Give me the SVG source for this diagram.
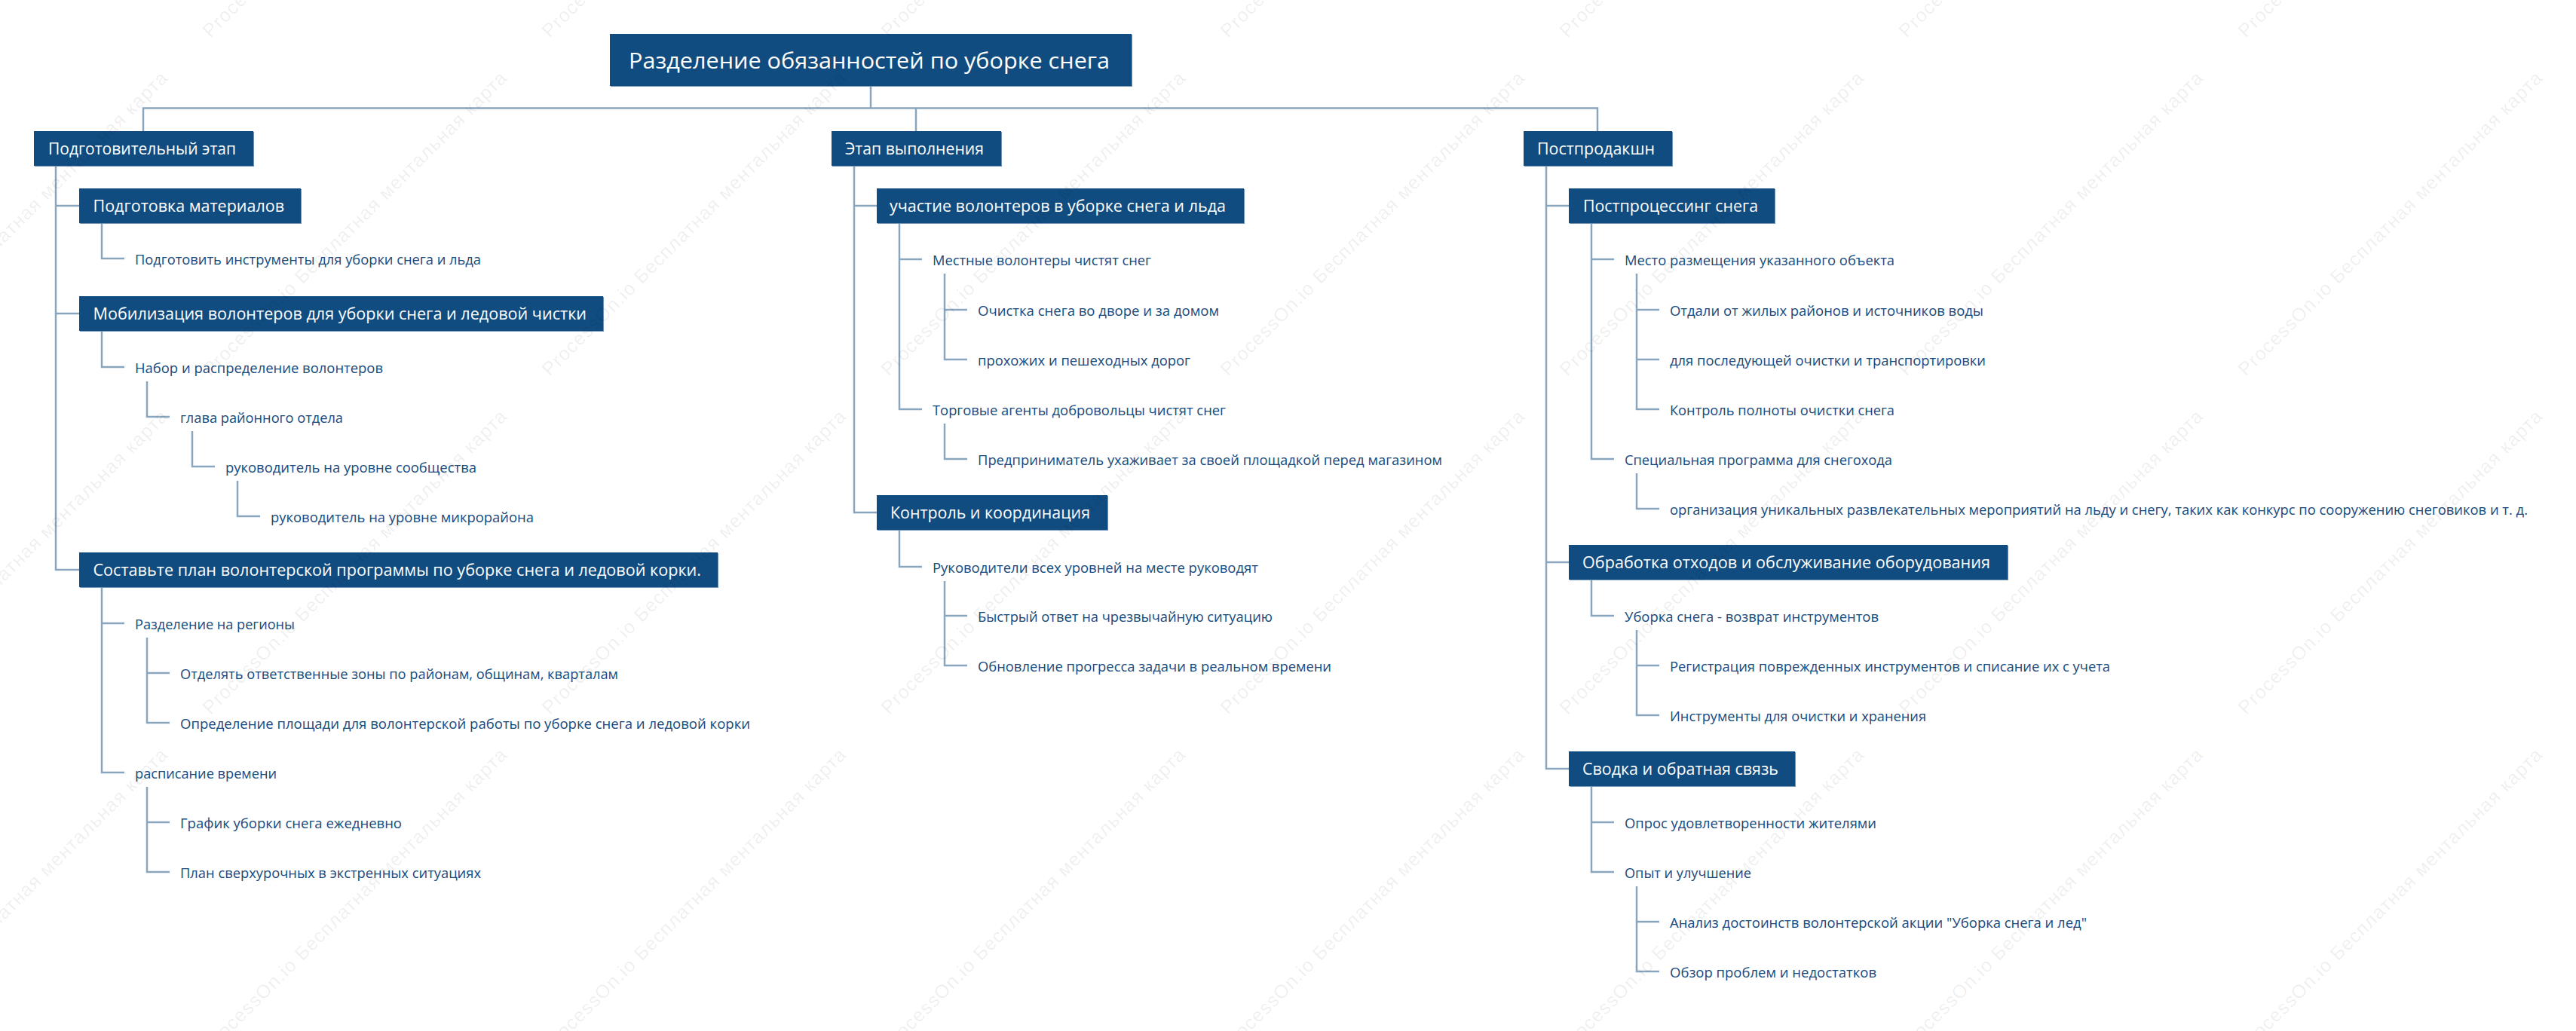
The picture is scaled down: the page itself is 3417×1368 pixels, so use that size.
<svg xmlns="http://www.w3.org/2000/svg" width="3417" height="1368" viewBox="0 0 3417 1368">
<style>
.bg{fill:#ffffff}
.box{fill:#114c80}
.edge{fill:#6d93b8}
.bt{fill:#ffffff;font-family:"Open Sans","Noto Sans",sans-serif;font-size:22px}
.rt{fill:#ffffff;font-family:"Open Sans","Noto Sans",sans-serif;font-size:30px}
.lf{fill:#164a7e;font-family:"Open Sans","Noto Sans",sans-serif;font-size:18.5px}
.ln{fill:none;stroke:#8aa6bf;stroke-width:2.5;stroke-linejoin:miter}
.wm{fill:#000000;fill-opacity:0.07;font-family:"Liberation Sans",sans-serif;font-size:25px}
</style>
<rect class="bg" x="0" y="0" width="3417" height="1368"/>

<g id="connectors" class="ln">
<path d="M1155 114 V143.5 M190 174 V143.5 H2119 V174 M1215 143.5 V174"/>
<path d="M74 220 V756 H105 M74 273 H105 M74 416 H105"/>
<path d="M135 296 V343 H165"/>
<path d="M135 439 V487 H165"/>
<path d="M195 506 V553 H225"/>
<path d="M255 572 V619 H285"/>
<path d="M315 638 V685 H345"/>
<path d="M135 779 V1025 H165 M135 827 H165"/>
<path d="M195 846 V959 H225 M195 893 H225"/>
<path d="M195 1044 V1157 H225 M195 1091 H225"/>
<path d="M1133 220 V680 H1163 M1133 273 H1163"/>
<path d="M1193 296 V543 H1223 M1193 344 H1223"/>
<path d="M1253 363 V477 H1283 M1253 411 H1283"/>
<path d="M1253 562 V609 H1283"/>
<path d="M1193 703 V752 H1223"/>
<path d="M1253 771 V883 H1283 M1253 817 H1283"/>
<path d="M2051 220 V1020 H2081 M2051 273 H2081 M2051 746 H2081"/>
<path d="M2111 296 V609 H2141 M2111 344 H2141"/>
<path d="M2171 363 V543 H2201 M2171 411 H2201 M2171 477 H2201"/>
<path d="M2171 628 V675 H2201"/>
<path d="M2111 769 V817 H2141"/>
<path d="M2171 836 V949 H2201 M2171 883 H2201"/>
<path d="M2111 1043 V1157 H2141 M2111 1091 H2141"/>
<path d="M2171 1176 V1289 H2201 M2171 1223 H2201"/>
</g>

<g id="root"><rect class="edge" x="810" y="46" width="692" height="69"/><rect class="box" x="809" y="45" width="692" height="69"/><text class="rt" x="834" y="91" textLength="638" lengthAdjust="spacingAndGlyphs">Разделение обязанностей по уборке снега</text></g>

<g id="n-prep"><rect class="edge" x="46" y="175" width="291" height="46"/><rect class="box" x="45" y="174" width="291" height="46"/><text class="bt" x="64" y="205" textLength="249" lengthAdjust="spacingAndGlyphs">Подготовительный этап</text></g>
<g id="n-exec"><rect class="edge" x="1104" y="175" width="225" height="46"/><rect class="box" x="1103" y="174" width="225" height="46"/><text class="bt" x="1121" y="205" textLength="184" lengthAdjust="spacingAndGlyphs">Этап выполнения</text></g>
<g id="n-post"><rect class="edge" x="2022" y="175" width="197" height="46"/><rect class="box" x="2021" y="174" width="197" height="46"/><text class="bt" x="2039" y="205" textLength="156" lengthAdjust="spacingAndGlyphs">Постпродакшн</text></g>

<g id="n-materials"><rect class="edge" x="106" y="251" width="294" height="46"/><rect class="box" x="105" y="250" width="294" height="46"/><text class="bt" x="123.5" y="281" textLength="253.5" lengthAdjust="spacingAndGlyphs">Подготовка материалов</text></g>
<g id="n-mobil"><rect class="edge" x="106" y="394" width="695" height="46"/><rect class="box" x="105" y="393" width="695" height="46"/><text class="bt" x="123.5" y="424" textLength="654.5" lengthAdjust="spacingAndGlyphs">Мобилизация волонтеров для уборки снега и ледовой чистки</text></g>
<g id="n-plan"><rect class="edge" x="106" y="734" width="847" height="46"/><rect class="box" x="105" y="733" width="847" height="46"/><text class="bt" x="123.5" y="764" textLength="806.5" lengthAdjust="spacingAndGlyphs">Составьте план волонтерской программы по уборке снега и ледовой корки.</text></g>
<g id="n-part"><rect class="edge" x="1164" y="251" width="487" height="46"/><rect class="box" x="1163" y="250" width="487" height="46"/><text class="bt" x="1180" y="281" textLength="446" lengthAdjust="spacingAndGlyphs">участие волонтеров в уборке снега и льда</text></g>
<g id="n-ctrl"><rect class="edge" x="1164" y="658" width="306" height="46"/><rect class="box" x="1163" y="657" width="306" height="46"/><text class="bt" x="1181" y="688" textLength="265" lengthAdjust="spacingAndGlyphs">Контроль и координация</text></g>
<g id="n-postproc"><rect class="edge" x="2082" y="251" width="273" height="46"/><rect class="box" x="2081" y="250" width="273" height="46"/><text class="bt" x="2100" y="281" textLength="232" lengthAdjust="spacingAndGlyphs">Постпроцессинг снега</text></g>
<g id="n-waste"><rect class="edge" x="2082" y="724" width="582" height="46"/><rect class="box" x="2081" y="723" width="582" height="46"/><text class="bt" x="2099" y="754" textLength="541" lengthAdjust="spacingAndGlyphs">Обработка отходов и обслуживание оборудования</text></g>
<g id="n-summary"><rect class="edge" x="2082" y="998" width="300" height="46"/><rect class="box" x="2081" y="997" width="300" height="46"/><text class="bt" x="2099" y="1028" textLength="260" lengthAdjust="spacingAndGlyphs">Сводка и обратная связь</text></g>

<g id="l1"><text class="lf" x="179" y="351" textLength="459" lengthAdjust="spacingAndGlyphs">Подготовить инструменты для уборки снега и льда</text></g>
<g id="l2"><text class="lf" x="179" y="495" textLength="329" lengthAdjust="spacingAndGlyphs">Набор и распределение волонтеров</text></g>
<g id="l3"><text class="lf" x="239" y="561" textLength="216" lengthAdjust="spacingAndGlyphs">глава районного отдела</text></g>
<g id="l4"><text class="lf" x="299" y="627" textLength="333" lengthAdjust="spacingAndGlyphs">руководитель на уровне сообщества</text></g>
<g id="l5"><text class="lf" x="359" y="693" textLength="349" lengthAdjust="spacingAndGlyphs">руководитель на уровне микрорайона</text></g>
<g id="l6"><text class="lf" x="179" y="835" textLength="212" lengthAdjust="spacingAndGlyphs">Разделение на регионы</text></g>
<g id="l7"><text class="lf" x="239" y="901" textLength="581" lengthAdjust="spacingAndGlyphs">Отделять ответственные зоны по районам, общинам, кварталам</text></g>
<g id="l8"><text class="lf" x="239" y="967" textLength="756" lengthAdjust="spacingAndGlyphs">Определение площади для волонтерской работы по уборке снега и ледовой корки</text></g>
<g id="l9"><text class="lf" x="179" y="1033" textLength="188" lengthAdjust="spacingAndGlyphs">расписание времени</text></g>
<g id="l10"><text class="lf" x="239" y="1099" textLength="294" lengthAdjust="spacingAndGlyphs">График уборки снега ежедневно</text></g>
<g id="l11"><text class="lf" x="239" y="1165" textLength="399" lengthAdjust="spacingAndGlyphs">План сверхурочных в экстренных ситуациях</text></g>

<g id="m1"><text class="lf" x="1237" y="352" textLength="290" lengthAdjust="spacingAndGlyphs">Местные волонтеры чистят снег</text></g>
<g id="m2"><text class="lf" x="1297" y="419" textLength="320" lengthAdjust="spacingAndGlyphs">Очистка снега во дворе и за домом</text></g>
<g id="m3"><text class="lf" x="1297" y="485" textLength="282" lengthAdjust="spacingAndGlyphs">прохожих и пешеходных дорог</text></g>
<g id="m4"><text class="lf" x="1237" y="551" textLength="389" lengthAdjust="spacingAndGlyphs">Торговые агенты добровольцы чистят снег</text></g>
<g id="m5"><text class="lf" x="1297" y="617" textLength="616" lengthAdjust="spacingAndGlyphs">Предприниматель ухаживает за своей площадкой перед магазином</text></g>
<g id="m6"><text class="lf" x="1237" y="760" textLength="432" lengthAdjust="spacingAndGlyphs">Руководители всех уровней на месте руководят</text></g>
<g id="m7"><text class="lf" x="1297" y="825" textLength="391" lengthAdjust="spacingAndGlyphs">Быстрый ответ на чрезвычайную ситуацию</text></g>
<g id="m8"><text class="lf" x="1297" y="891" textLength="469" lengthAdjust="spacingAndGlyphs">Обновление прогресса задачи в реальном времени</text></g>

<g id="r1"><text class="lf" x="2155" y="352" textLength="358" lengthAdjust="spacingAndGlyphs">Место размещения указанного объекта</text></g>
<g id="r2"><text class="lf" x="2215" y="419" textLength="416" lengthAdjust="spacingAndGlyphs">Отдали от жилых районов и источников воды</text></g>
<g id="r3"><text class="lf" x="2215" y="485" textLength="419" lengthAdjust="spacingAndGlyphs">для последующей очистки и транспортировки</text></g>
<g id="r4"><text class="lf" x="2215" y="551" textLength="298" lengthAdjust="spacingAndGlyphs">Контроль полноты очистки снега</text></g>
<g id="r5"><text class="lf" x="2155" y="617" textLength="355" lengthAdjust="spacingAndGlyphs">Специальная программа для снегохода</text></g>
<g id="r6"><text class="lf" x="2215" y="683" textLength="1138" lengthAdjust="spacingAndGlyphs">организация уникальных развлекательных мероприятий на льду и снегу, таких как конкурс по сооружению снеговиков и т. д.</text></g>
<g id="r7"><text class="lf" x="2155" y="825" textLength="337" lengthAdjust="spacingAndGlyphs">Уборка снега - возврат инструментов</text></g>
<g id="r8"><text class="lf" x="2215" y="891" textLength="584" lengthAdjust="spacingAndGlyphs">Регистрация поврежденных инструментов и списание их с учета</text></g>
<g id="r9"><text class="lf" x="2215" y="957" textLength="340" lengthAdjust="spacingAndGlyphs">Инструменты для очистки и хранения</text></g>
<g id="r10"><text class="lf" x="2155" y="1099" textLength="334" lengthAdjust="spacingAndGlyphs">Опрос удовлетворенности жителями</text></g>
<g id="r11"><text class="lf" x="2155" y="1165" textLength="168" lengthAdjust="spacingAndGlyphs">Опыт и улучшение</text></g>
<g id="r12"><text class="lf" x="2215" y="1231" textLength="553" lengthAdjust="spacingAndGlyphs">Анализ достоинств волонтерской акции "Уборка снега и лед"</text></g>
<g id="r13"><text class="lf" x="2215" y="1297" textLength="274" lengthAdjust="spacingAndGlyphs">Обзор проблем и недостатков</text></g>

<g id="watermark" class="wm">
<text transform="translate(-171,51) rotate(-45)" textLength="558">ProcessOn.io Бесплатная ментальная карта</text>
<text transform="translate(279,51) rotate(-45)" textLength="558">ProcessOn.io Бесплатная ментальная карта</text>
<text transform="translate(729,51) rotate(-45)" textLength="558">ProcessOn.io Бесплатная ментальная карта</text>
<text transform="translate(1179,51) rotate(-45)" textLength="558">ProcessOn.io Бесплатная ментальная карта</text>
<text transform="translate(1629,51) rotate(-45)" textLength="558">ProcessOn.io Бесплатная ментальная карта</text>
<text transform="translate(2079,51) rotate(-45)" textLength="558">ProcessOn.io Бесплатная ментальная карта</text>
<text transform="translate(2529,51) rotate(-45)" textLength="558">ProcessOn.io Бесплатная ментальная карта</text>
<text transform="translate(2979,51) rotate(-45)" textLength="558">ProcessOn.io Бесплатная ментальная карта</text>
<text transform="translate(-171,500) rotate(-45)" textLength="558">ProcessOn.io Бесплатная ментальная карта</text>
<text transform="translate(279,500) rotate(-45)" textLength="558">ProcessOn.io Бесплатная ментальная карта</text>
<text transform="translate(729,500) rotate(-45)" textLength="558">ProcessOn.io Бесплатная ментальная карта</text>
<text transform="translate(1179,500) rotate(-45)" textLength="558">ProcessOn.io Бесплатная ментальная карта</text>
<text transform="translate(1629,500) rotate(-45)" textLength="558">ProcessOn.io Бесплатная ментальная карта</text>
<text transform="translate(2079,500) rotate(-45)" textLength="558">ProcessOn.io Бесплатная ментальная карта</text>
<text transform="translate(2529,500) rotate(-45)" textLength="558">ProcessOn.io Бесплатная ментальная карта</text>
<text transform="translate(2979,500) rotate(-45)" textLength="558">ProcessOn.io Бесплатная ментальная карта</text>
<text transform="translate(-171,949) rotate(-45)" textLength="558">ProcessOn.io Бесплатная ментальная карта</text>
<text transform="translate(279,949) rotate(-45)" textLength="558">ProcessOn.io Бесплатная ментальная карта</text>
<text transform="translate(729,949) rotate(-45)" textLength="558">ProcessOn.io Бесплатная ментальная карта</text>
<text transform="translate(1179,949) rotate(-45)" textLength="558">ProcessOn.io Бесплатная ментальная карта</text>
<text transform="translate(1629,949) rotate(-45)" textLength="558">ProcessOn.io Бесплатная ментальная карта</text>
<text transform="translate(2079,949) rotate(-45)" textLength="558">ProcessOn.io Бесплатная ментальная карта</text>
<text transform="translate(2529,949) rotate(-45)" textLength="558">ProcessOn.io Бесплатная ментальная карта</text>
<text transform="translate(2979,949) rotate(-45)" textLength="558">ProcessOn.io Бесплатная ментальная карта</text>
<text transform="translate(-171,1398) rotate(-45)" textLength="558">ProcessOn.io Бесплатная ментальная карта</text>
<text transform="translate(279,1398) rotate(-45)" textLength="558">ProcessOn.io Бесплатная ментальная карта</text>
<text transform="translate(729,1398) rotate(-45)" textLength="558">ProcessOn.io Бесплатная ментальная карта</text>
<text transform="translate(1179,1398) rotate(-45)" textLength="558">ProcessOn.io Бесплатная ментальная карта</text>
<text transform="translate(1629,1398) rotate(-45)" textLength="558">ProcessOn.io Бесплатная ментальная карта</text>
<text transform="translate(2079,1398) rotate(-45)" textLength="558">ProcessOn.io Бесплатная ментальная карта</text>
<text transform="translate(2529,1398) rotate(-45)" textLength="558">ProcessOn.io Бесплатная ментальная карта</text>
<text transform="translate(2979,1398) rotate(-45)" textLength="558">ProcessOn.io Бесплатная ментальная карта</text>
</g>
</svg>
